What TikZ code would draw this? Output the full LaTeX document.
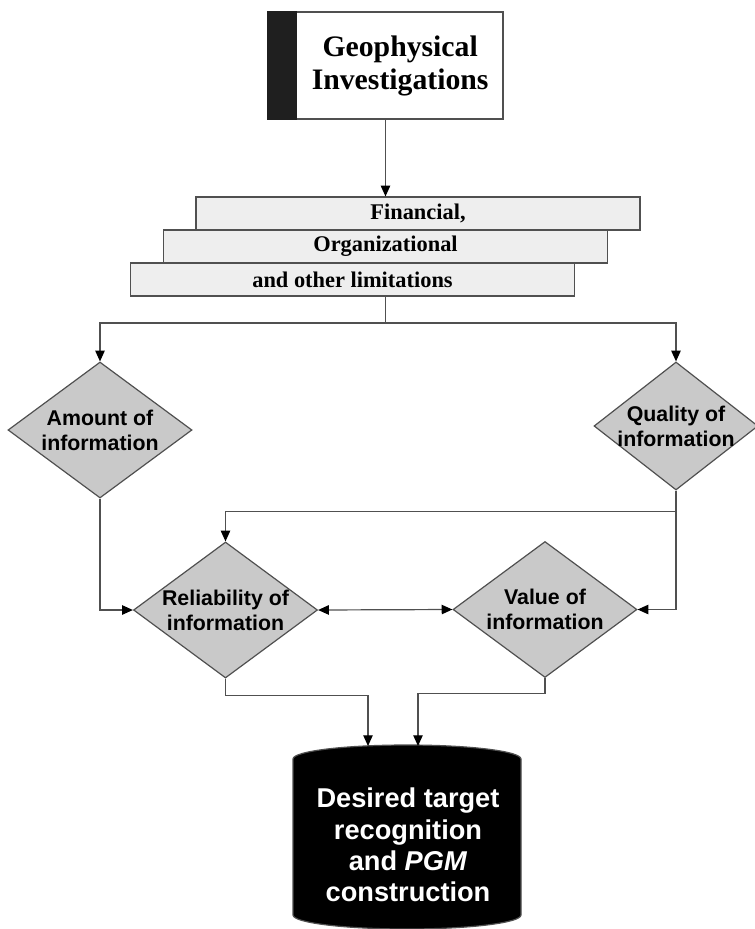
\documentclass[tikz,border=0pt]{standalone}
\usepackage{fontspec}
\setmainfont{Liberation Serif}
\setsansfont{Liberation Sans}
\usetikzlibrary{arrows.meta,shapes.geometric}
\definecolor{Linea}{HTML}{505050}
\definecolor{Rombo}{HTML}{C9C9C9}
\definecolor{Barra}{HTML}{EEEEEE}

\begin{document}
\begin{tikzpicture}[x=0.75pt,y=-0.75pt,line width=0.9pt,
  flecha/.style={draw=Linea,-{Triangle[length=8pt,width=7pt,color=black]}},
  barra/.style={draw=Linea,fill=Barra,minimum width=333pt,minimum height=24.75pt,inner sep=0pt,
    font=\bfseries\fontsize{16.8}{18}\selectfont},
  rombo/.style={diamond,draw=Linea,fill=Rombo,inner sep=0pt,minimum width=138pt,minimum height=102pt},
  texto/.style={font=\sffamily\bfseries\fontsize{16}{18.75}\selectfont,align=center}]
\useasboundingbox (0,0) rectangle (755,929);

\node[draw=Linea,fill=white,minimum width=176.25pt,minimum height=80.25pt] (geo) at (385.5,65.5) {};
\fill[black!88] (geo.north west) rectangle ([xshift=22.5pt]geo.south west);
\node[font=\bfseries\fontsize{22.3}{24.75}\selectfont,align=center] (geotxt) at ([xshift=11pt]geo.center) {Geophysical\\Investigations};

\node[barra] (fin) at (418,213.5) {Financial,};
\node[barra] (org) at (385.5,246.5) {Organizational};
\node[barra] (lim) at (352.5,279.5) {and other limitations};

\node[rombo,label={[texto]center:Amount of\\information}] (amount) at (100,430) {};
\node[rombo,minimum width=123pt,minimum height=96pt,label={[texto]center:Quality of\\information}] (quality) at (676,426) {};
\node[rombo,label={[texto]center:Reliability of\\information}] (rel) at (225.5,610) {};
\node[rombo,label={[texto]center:Value of\\information}] (val) at (545,609.5) {};

\path[fill=black,draw=Linea] (293,759) arc[start angle=180,end angle=0,x radius=85.5pt,y radius=10.5pt]
  -- (521,915) arc[start angle=0,end angle=-180,x radius=85.5pt,y radius=10.5pt] -- cycle;
\node[texto,text=white,font=\sffamily\bfseries\fontsize{20.4}{23.6}\selectfont] (meta) at (408,845)
  {Desired target\\recognition\\and \textit{PGM}\\construction};
\coordinate (m1) at (368,746);
\coordinate (m2) at (418,746);
\coordinate (split) at (385.5,323);

\draw[flecha] (geo.south) -- (geo.south |- fin.north);
\draw[draw=Linea] (geo.south |- lim.south) -- (split);
\draw[flecha] (split) -| (amount.north);
\draw[flecha] (split) -| (quality.north);
\draw[flecha] (quality.south) -- ++(0,21) -| (rel.north);
\draw[flecha] (quality.south) |- (val.east);
\draw[flecha] (amount.south) |- (rel.west);
\draw[draw=Linea,{Triangle[length=8pt,width=7pt,color=black]}-{Triangle[length=8pt,width=7pt,color=black]}] (rel.east) -- (val.west);
\draw[flecha] (rel.south) -- ++(0,17) -| (m1);
\draw[flecha] (val.south) -- ++(0,15) -| (m2);
\end{tikzpicture}
\end{document}
